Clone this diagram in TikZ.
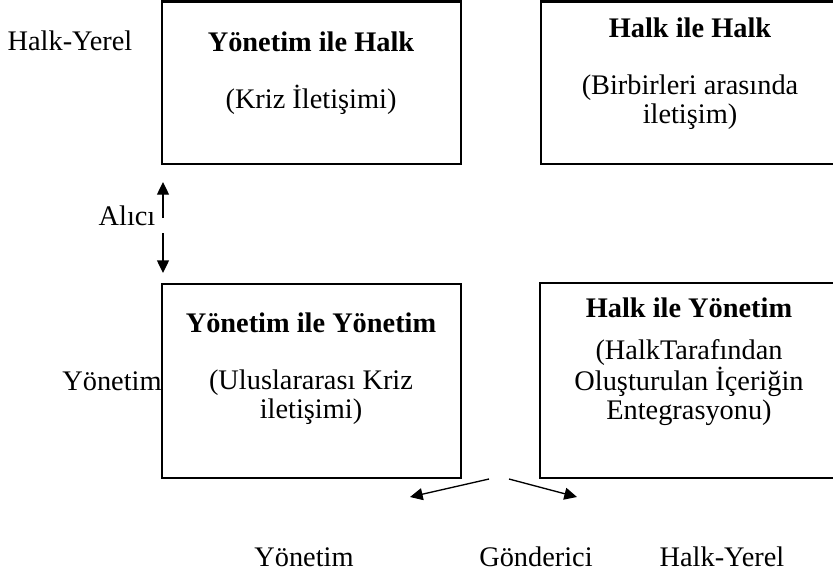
\documentclass[tikz,border=0pt]{standalone}
\usepackage{fontspec}
\setmainfont{Liberation Serif}
\usetikzlibrary{arrows.meta,positioning}

\begin{document}
\begin{tikzpicture}[x=0.03cm,y=-0.03cm,
        kutu/.style={draw=black, line width=0.075cm, minimum width=8.97cm, inner sep=0pt},
        yazi/.style={font=\fontsize{24.2}{24.7}\selectfont, anchor=base, inner sep=0pt, align=center},
        baslik/.style={yazi, font=\fontsize{24.2}{24.7}\selectfont\bfseries},
        ok/.style={-{Triangle[length=0.38cm,width=0.36cm]}, line width=0.04cm}
    ]
    \useasboundingbox (0,0) rectangle (833,574);

    % kutular
    \node[kutu, minimum height=4.88cm] (yh) at (311.5,82.8) {};
    \node[kutu, minimum height=4.88cm] (hh) at (690.5,82.8) {};
    \node[kutu, minimum height=5.83cm] (yy) at (311.5,381) {};
    \node[kutu, minimum height=5.85cm] (hy) at (689.5,380.5) {};

    % kutu yazilari (cok satirlilarda taban = son satir)
    \node[baslik] (yhbaslik) at (311,51) {Yönetim ile Halk};
    \node[yazi] (yhalt) at (311,108) {(Kriz İletişimi)};
    \node[baslik] (hhbaslik) at (690,37) {Halk ile Halk};
    \node[yazi] (hhalt) at (690,123) {(Birbirleri arasında\\iletişim)};
    \node[baslik] (yybaslik) at (311,332) {Yönetim ile Yönetim};
    \node[yazi] (yyalt) at (311,418) {(Uluslararası Kriz\\iletişimi)};
    \node[baslik] (hybaslik) at (689,317) {Halk ile Yönetim};
    \node[yazi] (hyalt) at (689,419) {(HalkTarafından\\Oluşturulan İçeriğin\\Entegrasyonu)};

    % eksen yazilari
    \node[yazi] (halkyerel1) at (70,50) {Halk-Yerel};
    \node[yazi] (alici) at (127,225) {Alıcı};
    \node[yazi] (yonetim1) at (112,390) {Yönetim};
    \node[yazi] (yonetim2) at (304,566) {Yönetim};
    \node[yazi] (gonderici) at (536,566) {Gönderici};
    \node[yazi] (halkyerel2) at (722,566) {Halk-Yerel};

    % oklar
    \coordinate (aliciust) at (163,218);
    \coordinate (ustuc) at (163,182);
    \coordinate (alicialt) at (163,233);
    \coordinate (altuc) at (163,273);
    \coordinate (gondsol) at (489,479);
    \coordinate (soluc) at (410,497);
    \coordinate (gondsag) at (509,479);
    \coordinate (saguc) at (577,497);
    \draw[ok] (aliciust) -- (ustuc);
    \draw[ok] (alicialt) -- (altuc);
    \draw[ok] (gondsol) -- (soluc);
    \draw[ok] (gondsag) -- (saguc);

\end{tikzpicture}
\end{document}
